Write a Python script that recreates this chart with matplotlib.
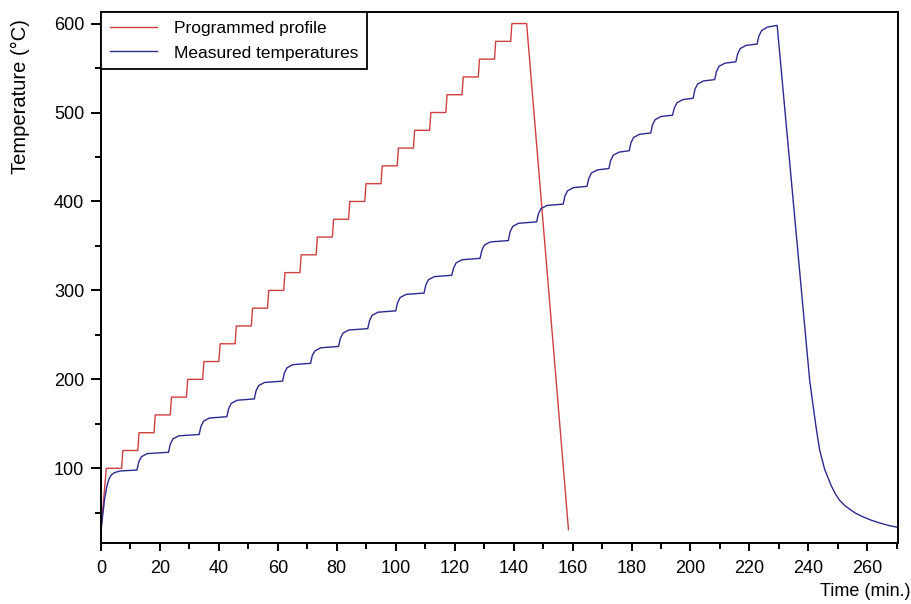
import matplotlib
matplotlib.use("Agg")
import matplotlib.pyplot as plt
from matplotlib.ticker import MultipleLocator

plt.rcParams["font.family"] = ["Liberation Sans", "DejaVu Sans"]

# programmed furnace profile (min, degC) - corners
red_time = [0.0, 1.8, 7.0, 7.4, 12.5, 12.9, 18.0, 18.4, 23.5, 23.9, 29.0, 29.4,
            34.5, 34.9, 40.0, 40.4, 45.5, 45.9, 51.0, 51.4, 56.5, 56.9, 62.0, 62.4,
            67.5, 67.9, 73.0, 73.4, 78.5, 78.9, 84.0, 84.4, 89.5, 89.9, 95.0, 95.4,
            100.5, 100.9, 106.0, 106.4, 111.5, 111.9, 117.0, 117.4, 122.5, 122.9,
            128.0, 128.4, 133.5, 133.9, 139.0, 139.4, 144.4, 158.6]
red_temp = [30, 100, 100, 120, 120, 140, 140, 160, 160, 180, 180, 200,
            200, 220, 220, 240, 240, 260, 260, 280, 280, 300, 300, 320,
            320, 340, 340, 360, 360, 380, 380, 400, 400, 420, 420, 440,
            440, 460, 460, 480, 480, 500, 500, 520, 520, 540,
            540, 560, 560, 580, 580, 600, 600, 31]

# measured temperature (min, degC)
blue_time = [0.0, 0.5, 1.2, 2.0, 2.7, 3.5, 4.5, 6.5,
             12.2, 12.8, 13.7, 15.7, 22.9, 23.5, 24.4, 26.4,
             33.3, 33.9, 34.8, 36.8, 42.7, 43.3, 44.2, 46.2,
             52.0, 52.6, 53.5, 55.5, 61.6, 62.2, 63.1, 65.1,
             71.1, 71.7, 72.6, 74.6, 80.6, 81.2, 82.1, 84.1,
             90.5, 91.1, 92.0, 94.0, 100.0, 100.6, 101.5, 103.5,
             109.6, 110.2, 111.1, 113.1, 119.0, 119.6, 120.5, 122.5,
             128.6, 129.2, 130.1, 132.1, 138.2, 138.8, 139.7, 141.7,
             147.8, 148.4, 149.3, 151.3, 156.8, 157.4, 158.3, 160.3,
             164.9, 165.5, 166.4, 168.4, 172.3, 172.9, 173.8, 175.8,
             179.2, 179.8, 180.7, 182.7, 186.5, 187.1, 188.0, 190.0,
             193.9, 194.5, 195.4, 197.4, 200.9, 201.5, 202.4, 204.4,
             208.2, 208.8, 209.7, 211.7, 215.4, 216.0, 216.9, 218.9,
             222.6, 223.2, 224.1, 226.1, 229.4,
             235.0, 240.4, 241.6, 242.7, 243.8, 245.5, 247.8, 249.2, 250.6,
             252.2, 254.0, 256.0, 258.5, 261.0, 264.2, 267.5, 270.5]
blue_temp = [30, 45, 65, 80, 88, 92.5, 95, 97,
             98, 107, 113, 116.5, 118, 127, 133, 136.5,
             138, 147, 153, 156.5, 158, 167, 173, 176.5,
             178, 187, 193, 196.5, 198, 207, 213, 216.5,
             218, 227, 232, 235.5, 237, 246, 252, 255.5,
             257, 266, 272, 275.5, 277, 286, 292, 295.5,
             297, 306, 312, 315.5, 317, 325, 331, 334.5,
             336, 345, 351, 354.5, 356, 366, 372, 375.5,
             377, 386, 392, 395.5, 397, 406, 412, 415.5,
             417, 426, 432, 435.5, 437, 446, 452, 455.5,
             457, 466, 472, 475.5, 477, 486, 492, 495.5,
             497, 505, 511, 514.5, 516, 526, 532, 535.5,
             537, 546, 552, 555.5, 557, 566, 572, 575.5,
             577, 586, 592, 596, 598,
             395, 200, 170, 144, 121, 99, 80, 71, 64,
             58.5, 54, 49.5, 45.5, 42, 38.5, 35.5, 33.5]

RED = "#cf4040"
BLUE = "#2b2b8f"

fig = plt.figure(figsize=(9.11, 6.04), dpi=100)
ax = fig.add_axes([101 / 911, 61 / 604, 797 / 911, 531 / 604])

ax.plot(red_time, red_temp, color=RED, lw=1.0, label="Programmed profile")
ax.plot(blue_time, blue_temp, color=BLUE, lw=1.0, label="Measured temperatures")

ax.set_xlim(0, 270.4)
ax.set_ylim(16, 613)
ax.xaxis.set_major_locator(MultipleLocator(20))
ax.xaxis.set_minor_locator(MultipleLocator(10))
ax.yaxis.set_major_locator(MultipleLocator(100))
ax.yaxis.set_minor_locator(MultipleLocator(50))
ax.set_yticks([100, 200, 300, 400, 500, 600])

for s in ax.spines.values():
    s.set_linewidth(1.4)
ax.tick_params(axis="x", which="major", length=6, width=1.4, pad=6, labelsize=13)
ax.tick_params(axis="x", which="minor", length=4.5, width=1.4)
ax.tick_params(axis="y", which="major", length=7, width=1.4, pad=5, labelsize=13)
ax.tick_params(axis="y", which="minor", length=4, width=1.4)

fig.text(20 / 911, 1 - 97 / 604, "Temperature (°C)", rotation=90,
         ha="center", va="center", fontsize=14.5)
fig.text(910 / 911, 1 - 592 / 604, "Time (min.)", ha="right", va="center", fontsize=13)

leg = ax.legend(loc="upper left", bbox_to_anchor=(0, 1), borderaxespad=0,
                fancybox=False, edgecolor="black", framealpha=1, fontsize=12.5,
                handlelength=2.7, handletextpad=1.0, borderpad=0.5, labelspacing=0.55)
leg.get_frame().set_linewidth(1.3)

fig.savefig("out.png", dpi=100)
